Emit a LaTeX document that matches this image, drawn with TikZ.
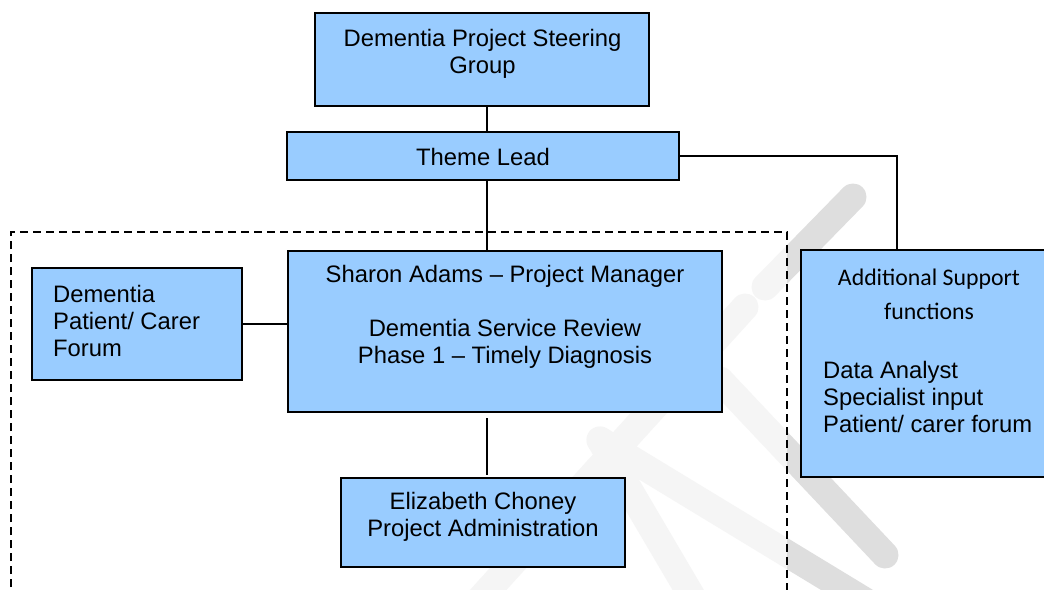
\documentclass[tikz,border=0pt]{standalone}
\usepackage{fontspec}
\setmainfont{Liberation Sans}
\newfontfamily\calib{Carlito}
\definecolor{boxblue}{RGB}{153,204,255}
\definecolor{wm}{RGB}{222,222,222}
\tikzset{
  box/.style={draw=black, line width=2pt, fill=boxblue, inner sep=0pt},
  txt/.style={font=\fontsize{23.8}{27}\selectfont, align=center, inner sep=0pt},
  ltxt/.style={font=\fontsize{23.8}{27}\selectfont, align=left, inner sep=0pt, anchor=west},
  ctxt/.style={font=\calib\fontsize{23.8}{34}\selectfont, align=center, inner sep=0pt},
  conn/.style={line width=2pt},
  thinconn/.style={line width=1.3pt},
  wmstroke/.style={draw=wm, line width=27pt, line cap=round},
  frame/.style={line width=1.5pt, dash pattern=on 8pt off 5pt}
}
\begin{document}
\begin{tikzpicture}[x=1pt,y=-1pt]
\useasboundingbox (0,0) rectangle (1044,589);
\fill[white] (0,0) rectangle (1044,589);
% watermark
\begin{scope}
\clip (0,0) rectangle (1044,589);
\draw[wmstroke] (853,197) -- (765,287);
\draw[wmstroke] (745,307) -- (470,610);
\draw[wmstroke] (720,380) -- (885,555);
\draw[wmstroke] (600,440) -- (880,610);
\draw[wmstroke] (600,440) -- (700,610);
\fill[white, opacity=0.7] (11,232) rectangle (787,600);
\end{scope}
% dashed frame
\draw[frame] (11,600) -- (11,232) -- (787,232) -- (787,600);
% named helper coordinates
\coordinate (vx) at (487,0);
\coordinate (ax) at (897,0);
% boxes
\node[box, minimum width=334, minimum height=93] (steer) at (482,59.5) {};
\node[box, minimum width=392, minimum height=48] (theme) at (483,156) {};
\node[box, minimum width=434, minimum height=161] (sharon) at (505,331.5) {};
\node[box, minimum width=210, minimum height=112] (forum) at (137,324) {};
\node[box, minimum width=284, minimum height=89] (eliz) at (483,522.5) {};
\begin{scope}
\clip (0,0) rectangle (1044,589);
\node[box, minimum width=256, minimum height=227] (addl) at (929,363.5) {};
\end{scope}
% texts
\node[txt] (steertext) at (482.5,53.5) {Dementia Project Steering\\Group};
\node[txt] (themetext) at (483,157) {Theme Lead};
\node[txt] (sharontext) at (505,316.5) {Sharon Adams – Project Manager\\[27pt]Dementia Service Review\\Phase 1 – Timely Diagnosis};
\node[ltxt] (forumtext) at (53,321) {Dementia\\Patient/ Carer\\Forum};
\node[txt] (eliztext) at (483,516.5) {Elizabeth Choney\\Project Administration};
\node[ctxt] (addltitle) at (929,294) {Additional Support\\functions};
\node[ltxt] (addllist) at (823,397) {Data Analyst\\Specialist input\\Patient/ carer forum};
% connectors
\draw[conn] (steer.south -| vx) -- (theme.north -| vx);
\draw[conn] (theme.south -| vx) -- (sharon.north -| vx);
\draw[conn, shorten <=5pt, shorten >=2pt] (sharon.south -| vx) -- (eliz.north -| vx);
\draw[conn] (forum.east) -- (sharon.west |- forum.east);
\draw[thinconn] (theme.east) -| (ax |- addl.north);
\end{tikzpicture}
\end{document}
